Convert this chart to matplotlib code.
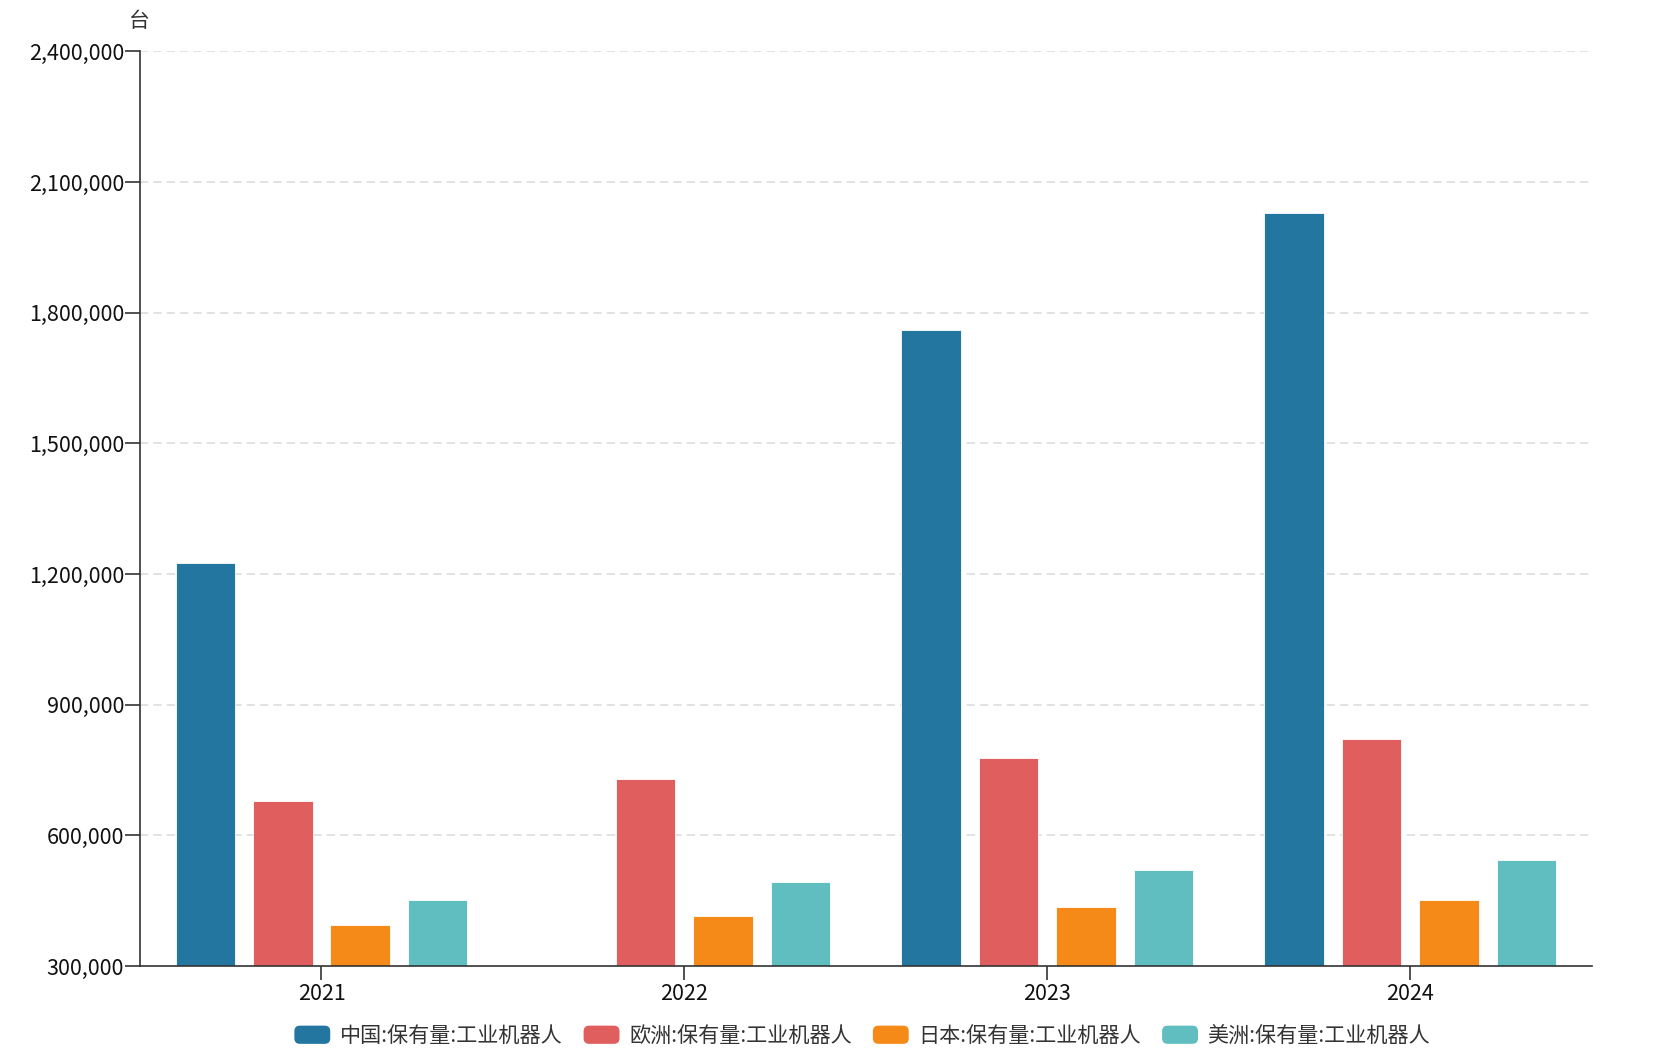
import matplotlib
matplotlib.use("Agg")
import matplotlib.pyplot as plt
import numpy as np
from matplotlib.patches import FancyBboxPatch, Patch
from matplotlib.legend_handler import HandlerPatch
from matplotlib.ticker import FuncFormatter, FixedLocator

plt.rcParams['font.family'] = ['Noto Sans CJK SC', 'DejaVu Sans']

years = ["2021", "2022", "2023", "2024"]
series_names = ["中国:保有量:工业机器人", "欧洲:保有量:工业机器人",
                "日本:保有量:工业机器人", "美洲:保有量:工业机器人"]
china = [1225000, np.nan, 1760000, 2028000]
europe = [680000, 729000, 778000, 822000]
japan = [394000, 415500, 436000, 451500]
americas = [452500, 492000, 521000, 543500]
colors = ["#22769f", "#e05e5e", "#f68a19", "#60bec0"]
yticks = [300000, 600000, 900000, 1200000, 1500000, 1800000, 2100000, 2400000]
unit = "台"

fig = plt.figure(figsize=(16.65, 10.53), dpi=100)
ax = fig.add_axes([0.0841, 0.0826, 0.8719, 0.8685])

x = np.arange(len(years))
width = 0.164
pitch = 0.2135
data = [china, europe, japan, americas]
for i, (vals, c, name) in enumerate(zip(data, colors, series_names)):
    v = np.array(vals, dtype=float)
    ax.bar(x + (i - 1.5) * pitch, v - yticks[0], bottom=yticks[0], width=width,
           color=c, edgecolor='white', linewidth=0.6, label=name, zorder=3)

ax.set_xlim(-0.5, len(years) - 0.5)
ax.set_ylim(yticks[0], yticks[-1])
ax.yaxis.set_major_locator(FixedLocator(yticks))
ax.yaxis.set_major_formatter(FuncFormatter(lambda v, p: f"{int(v):,}"))
ax.set_xticks(x)
ax.set_xticklabels(years)

for yv in yticks[1:]:
    ax.axhline(yv, color='#dddddd', linewidth=1.2, linestyle=(0, (5, 3)), zorder=1)

for s in ['top', 'right']:
    ax.spines[s].set_visible(False)
for s in ['left', 'bottom']:
    ax.spines[s].set_color('#333333')
    ax.spines[s].set_linewidth(1.2)
    ax.spines[s].set_zorder(4)

ax.tick_params(axis='both', colors='#333333', labelcolor='#111111', labelsize=15.5, width=1.2)
ax.tick_params(axis='y', length=11, pad=0.5)
ax.tick_params(axis='x', length=10, pad=2)

fig.text(139 / 1665, 1 - 21 / 1053, unit, ha='center', va='center', fontsize=15, color='#333333')


class RoundedHandler(HandlerPatch):
    def create_artists(self, legend, orig_handle, xdescent, ydescent, width, height, fontsize, trans):
        p = FancyBboxPatch((-xdescent, -ydescent), width, height,
                           boxstyle="round,pad=0,rounding_size=4",
                           facecolor=orig_handle.get_facecolor(), edgecolor='none',
                           transform=trans)
        return [p]


handles = [Patch(facecolor=c, label=n) for c, n in zip(colors, series_names)]
leg = fig.legend(handles=handles, loc='center', bbox_to_anchor=(0.5179, 1 - 1036 / 1053), ncol=4,
                 frameon=False, fontsize=15.2, handlelength=1.7, handleheight=0.95,
                 handletextpad=0.45, columnspacing=1.0,
                 handler_map={Patch: RoundedHandler()})
for t in leg.get_texts():
    t.set_color('#333333')

fig.savefig("out.png", dpi=100)
